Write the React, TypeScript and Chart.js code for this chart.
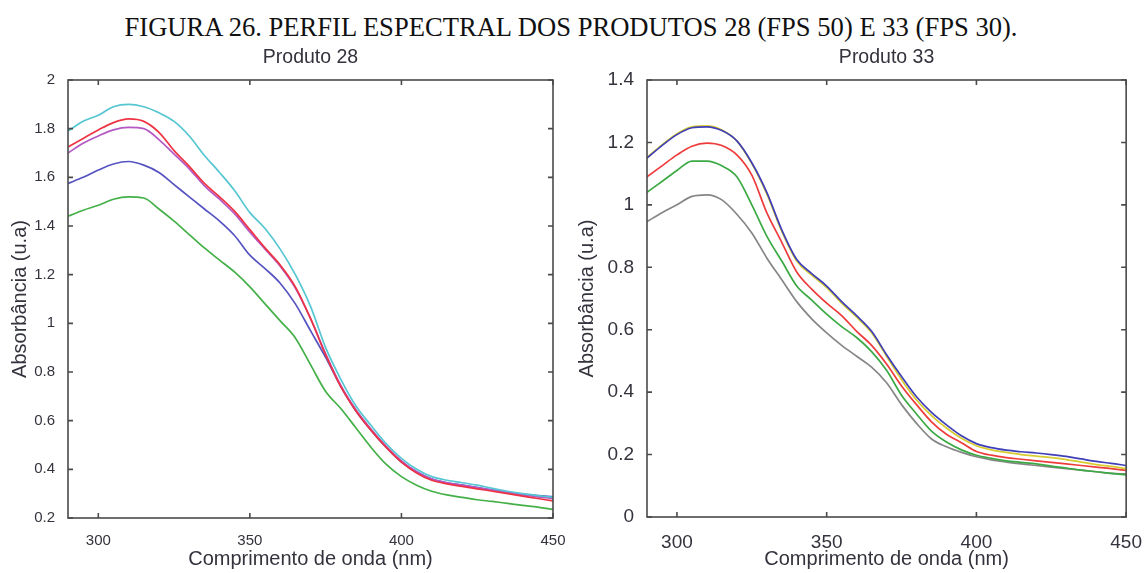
import React, { useEffect, useRef } from 'react';
import { Chart, registerables } from 'chart.js';

Chart.register(...registerables);

// ---------- data ----------
const wavelengths = [290, 295, 300, 305, 310, 315, 320, 325, 330, 335, 340, 345, 350, 355, 360, 365, 370, 375, 380, 385, 390, 395, 400, 405, 410, 415, 420, 425, 430, 435, 440, 445, 450];

// Produto 28
const p28Cyan = [1.79, 1.83, 1.855, 1.89, 1.9, 1.89, 1.865, 1.83, 1.77, 1.69, 1.62, 1.545, 1.455, 1.39, 1.305, 1.2, 1.07, 0.9, 0.77, 0.66, 0.58, 0.505, 0.445, 0.4, 0.37, 0.355, 0.345, 0.335, 0.322, 0.31, 0.3, 0.292, 0.285];
const p28Red = [1.725, 1.76, 1.795, 1.825, 1.84, 1.83, 1.785, 1.71, 1.645, 1.575, 1.52, 1.46, 1.385, 1.31, 1.24, 1.15, 1.02, 0.87, 0.74, 0.64, 0.56, 0.49, 0.43, 0.385, 0.355, 0.34, 0.33, 0.32, 0.31, 0.3, 0.29, 0.28, 0.27];
const p28Magenta = [1.7, 1.74, 1.77, 1.795, 1.805, 1.8, 1.755, 1.695, 1.635, 1.565, 1.51, 1.45, 1.375, 1.305, 1.235, 1.145, 1.02, 0.875, 0.745, 0.645, 0.565, 0.495, 0.435, 0.39, 0.36, 0.345, 0.335, 0.325, 0.315, 0.305, 0.295, 0.287, 0.28];
const p28Blue = [1.575, 1.6, 1.63, 1.655, 1.665, 1.65, 1.62, 1.57, 1.52, 1.47, 1.42, 1.36, 1.28, 1.225, 1.165, 1.08, 0.97, 0.86, 0.74, 0.64, 0.56, 0.49, 0.43, 0.39, 0.36, 0.345, 0.335, 0.325, 0.315, 0.305, 0.298, 0.292, 0.288];
const p28Green = [1.44, 1.465, 1.485, 1.51, 1.52, 1.515, 1.47, 1.42, 1.365, 1.31, 1.26, 1.21, 1.15, 1.08, 1.01, 0.94, 0.83, 0.72, 0.65, 0.57, 0.49, 0.42, 0.37, 0.335, 0.31, 0.295, 0.285, 0.275, 0.268, 0.26, 0.252, 0.245, 0.235];

// Produto 33
const p33Blue = [1.15, 1.19, 1.225, 1.247, 1.25, 1.238, 1.205, 1.135, 1.04, 0.92, 0.825, 0.78, 0.74, 0.69, 0.645, 0.595, 0.52, 0.45, 0.385, 0.335, 0.295, 0.26, 0.235, 0.222, 0.214, 0.209, 0.205, 0.2, 0.194, 0.186, 0.178, 0.172, 0.165];
const p33Yellow = [1.152, 1.192, 1.228, 1.25, 1.253, 1.24, 1.205, 1.132, 1.035, 0.915, 0.82, 0.775, 0.735, 0.685, 0.64, 0.59, 0.515, 0.44, 0.375, 0.325, 0.285, 0.252, 0.228, 0.215, 0.207, 0.2, 0.195, 0.19, 0.184, 0.176, 0.168, 0.162, 0.155];
const p33Red = [1.09, 1.125, 1.16, 1.188, 1.198, 1.19, 1.16, 1.095, 0.975, 0.88, 0.785, 0.73, 0.685, 0.645, 0.595, 0.55, 0.49, 0.42, 0.36, 0.305, 0.265, 0.238, 0.21, 0.198, 0.19, 0.185, 0.18, 0.175, 0.17, 0.165, 0.16, 0.155, 0.149];
const p33Green = [1.04, 1.075, 1.11, 1.14, 1.14, 1.125, 1.09, 1.0, 0.9, 0.82, 0.74, 0.695, 0.65, 0.61, 0.575, 0.53, 0.47, 0.39, 0.33, 0.275, 0.24, 0.215, 0.198, 0.188, 0.18, 0.175, 0.17, 0.163, 0.157, 0.15, 0.145, 0.14, 0.135];
const p33Gray = [0.946, 0.975, 1.0, 1.027, 1.032, 1.016, 0.97, 0.91, 0.83, 0.76, 0.69, 0.635, 0.59, 0.55, 0.515, 0.48, 0.43, 0.36, 0.3, 0.25, 0.225, 0.207, 0.193, 0.183, 0.176, 0.17, 0.165, 0.16, 0.155, 0.15, 0.145, 0.14, 0.138];

const xTicks = [300, 350, 400, 450];
const yTicks28 = [0.2, 0.4, 0.6, 0.8, 1, 1.2, 1.4, 1.6, 1.8, 2];
const yTicks33 = [0, 0.2, 0.4, 0.6, 0.8, 1, 1.2, 1.4];

const mainTitle = 'FIGURA 26. PERFIL ESPECTRAL DOS PRODUTOS 28 (FPS 50) E 33 (FPS 30).';
const xTitle = 'Comprimento de onda (nm)';
const yTitle = 'Absorbância (u.a)';

const SANS = '"Liberation Sans", Arial, sans-serif';
const TEXT = '#33333d';

type Series = { values: number[]; color: string };

interface PanelSpec {
  title: string;
  series: Series[];
  yMin: number;
  yMax: number;
  yTicks: number[];
  yAxisWidth: number;
  xAxisHeight: number;
  padRight: number;
  tickFont: number;
  yTitlePad: number;
}

const panel28: PanelSpec = {
  title: 'Produto 28',
  series: [
    { values: p28Cyan, color: '#55c6d2' },
    { values: p28Red, color: '#ee3344' },
    { values: p28Magenta, color: '#b458c4' },
    { values: p28Blue, color: '#5654c0' },
    { values: p28Green, color: '#44b048' },
  ],
  yMin: 0.2,
  yMax: 2,
  yTicks: yTicks28,
  yAxisWidth: 68,
  xAxisHeight: 55,
  padRight: 21,
  tickFont: 15,
  yTitlePad: 8,
};

const panel33: PanelSpec = {
  title: 'Produto 33',
  series: [
    { values: p33Blue, color: '#3f3fb8' },
    { values: p33Yellow, color: '#d8cc30' },
    { values: p33Red, color: '#ee3c3c' },
    { values: p33Green, color: '#3caa44' },
    { values: p33Gray, color: '#868686' },
  ],
  yMin: 0,
  yMax: 1.4,
  yTicks: yTicks33,
  yAxisWidth: 73,
  xAxisHeight: 56,
  padRight: 16,
  tickFont: 19,
  yTitlePad: 1,
};

function makeFramePlugin(title: string) {
  return {
    id: 'frame',
    afterDatasetsDraw(chart: any) {
      const { ctx, chartArea: a, scales } = chart;
      const x = scales.x;
      const y = scales.y;
      ctx.save();
      ctx.strokeStyle = '#4a4a4a';
      ctx.lineWidth = 1.6;
      ctx.strokeRect(a.left, a.top, a.right - a.left, a.bottom - a.top);
      const L = 5;
      ctx.beginPath();
      x.ticks.forEach((t: any) => {
        const px = x.getPixelForValue(t.value);
        ctx.moveTo(px, a.bottom);
        ctx.lineTo(px, a.bottom - L);
        ctx.moveTo(px, a.top);
        ctx.lineTo(px, a.top + L);
      });
      y.ticks.forEach((t: any) => {
        const py = y.getPixelForValue(t.value);
        ctx.moveTo(a.left, py);
        ctx.lineTo(a.left + L, py);
        ctx.moveTo(a.right, py);
        ctx.lineTo(a.right - L, py);
      });
      ctx.stroke();
      ctx.fillStyle = TEXT;
      ctx.font = `19.5px ${SANS}`;
      ctx.textAlign = 'center';
      ctx.textBaseline = 'alphabetic';
      ctx.fillText(title, (a.left + a.right) / 2, a.top - 17);
      ctx.restore();
    },
  };
}

function Panel({ spec, left }: { spec: PanelSpec; left: number }) {
  const ref = useRef<HTMLCanvasElement>(null);
  useEffect(() => {
    if (!ref.current) return;
    const chart = new Chart(ref.current, {
      type: 'line',
      data: {
        datasets: spec.series.map((s) => ({
          data: wavelengths.map((w, i) => ({ x: w, y: s.values[i] })),
          borderColor: s.color,
          backgroundColor: s.color,
          borderWidth: 1.7,
          pointRadius: 0,
          cubicInterpolationMode: 'monotone' as const,
          fill: false,
        })),
      },
      options: {
        animation: false,
        responsive: false,
        events: [],
        layout: { padding: { top: 40, right: spec.padRight, left: 0, bottom: 0 } },
        plugins: {
          legend: { display: false },
          tooltip: { enabled: false },
          title: { display: false },
        },
        scales: {
          x: {
            type: 'linear',
            min: 290,
            max: 450,
            afterBuildTicks: (s: any) => {
              s.ticks = xTicks.map((v) => ({ value: v }));
            },
            afterFit: (s: any) => {
              s.height = spec.xAxisHeight;
            },
            grid: { display: false },
            border: { display: false },
            ticks: {
              autoSkip: false,
              maxRotation: 0,
              padding: 6,
              color: TEXT,
              font: { family: SANS, size: spec.tickFont },
              callback: (v: any) => String(v),
            },
            title: {
              display: true,
              text: xTitle,
              color: TEXT,
              font: { family: SANS, size: 20 },
              padding: { top: 0, bottom: 2 },
            },
          },
          y: {
            type: 'linear',
            min: spec.yMin,
            max: spec.yMax,
            afterBuildTicks: (s: any) => {
              s.ticks = spec.yTicks.map((v) => ({ value: v }));
            },
            afterFit: (s: any) => {
              s.width = spec.yAxisWidth;
            },
            grid: { display: false },
            border: { display: false },
            ticks: {
              autoSkip: false,
              padding: 5,
              color: TEXT,
              font: { family: SANS, size: spec.tickFont },
              callback: (v: any) => String(Math.round(Number(v) * 10) / 10),
            },
            title: {
              display: true,
              text: yTitle,
              color: TEXT,
              font: { family: SANS, size: 20 },
              padding: { top: spec.yTitlePad, bottom: 0 },
            },
          },
        },
      },
      plugins: [makeFramePlugin(spec.title)],
    } as any);
    return () => chart.destroy();
  }, [spec]);
  return (
    <canvas
      ref={ref}
      width={574}
      height={533}
      style={{ position: 'absolute', left, top: 40, width: 574, height: 533 }}
    />
  );
}

export default function App() {
  return (
    <div
      style={{
        position: 'absolute',
        left: 0,
        top: 0,
        width: 1148,
        height: 573,
        background: '#ffffff',
        overflow: 'hidden',
      }}
    >
      <div
        style={{
          position: 'absolute',
          left: 0,
          top: 12,
          width: 1142,
          textAlign: 'center',
          fontFamily: '"Liberation Serif", "Times New Roman", serif',
          fontSize: 26.6,
          lineHeight: '30px',
          color: '#111',
          whiteSpace: 'nowrap',
        }}
      >
        {mainTitle}
      </div>
      <Panel spec={panel28} left={0} />
      <Panel spec={panel33} left={574} />
    </div>
  );
}
